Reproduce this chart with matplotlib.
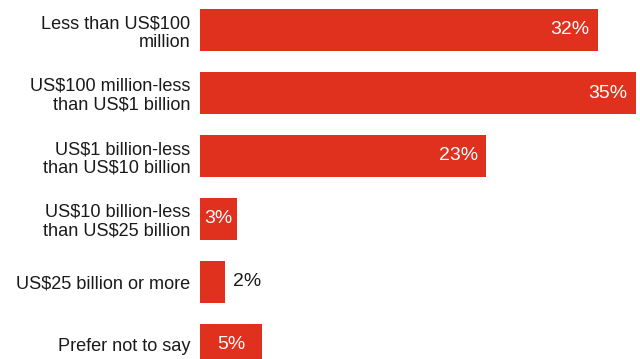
import matplotlib.pyplot as plt

plt.rcParams['font.family'] = ['Liberation Sans', 'DejaVu Sans']

categories = [
    'Less than US$100\nmillion',
    'US$100 million-less\nthan US$1 billion',
    'US$1 billion-less\nthan US$10 billion',
    'US$10 billion-less\nthan US$25 billion',
    'US$25 billion or more',
    'Prefer not to say',
]
values = [32, 35, 23, 3, 2, 5]

bar_color = '#e0311f'
text_color = '#1a1a1a'

fig = plt.figure(figsize=(6.4, 3.59), dpi=100)
ax = fig.add_axes([200 / 640, 0, 440 / 640, 1])

ypos = list(range(len(values)))
ax.barh(ypos, values, height=0.667, color=bar_color)

ax.set_xlim(0, 440 / 12.45)
ax.set_ylim(329 / 63, -30 / 63)

ax.set_yticks(ypos)
ax.set_yticklabels(categories, fontsize=13.1, color=text_color,
                   ha='right', linespacing=1.15)
ax.tick_params(axis='y', length=0, pad=7)
ax.set_xticks([])
for s in ax.spines.values():
    s.set_visible(False)

# value labels: inside at the end for long bars, centred for short, outside if too narrow
for y, v in zip(ypos, values):
    label = f'{v}%'
    if v >= 10:
        ax.text(v - 0.7, y, label, ha='right', va='center',
                color='white', fontsize=14)
    elif v >= 3:
        ax.text(v / 2, y, label, ha='center', va='center',
                color='white', fontsize=14)
    else:
        ax.text(v + 0.65, y, label, ha='left', va='center',
                color=text_color, fontsize=14)

fig.savefig('out.png', dpi=100)
